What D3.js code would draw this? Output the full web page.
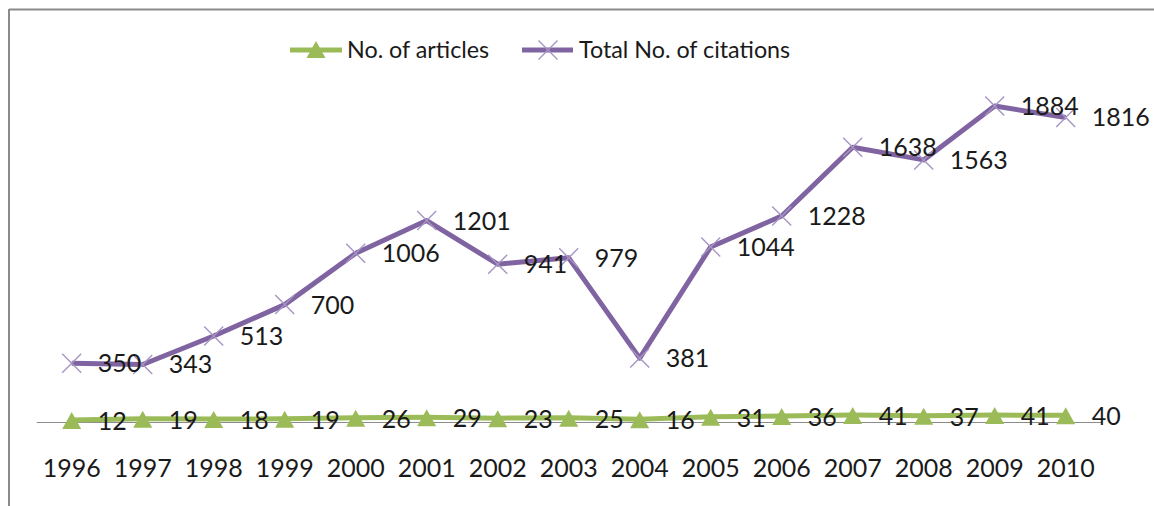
<!DOCTYPE html>
<html>
<head>
<meta charset="utf-8">
<script src="https://cdn.jsdelivr.net/npm/d3@7"></script>
<style>
  html, body { margin: 0; padding: 0; background: #fff; }
  svg { display: block; }
  text { font-family: Lato, "Open Sans", sans-serif; fill: #1a1a1a; }
</style>
</head>
<body>
<svg id="chart" width="1154" height="506"></svg>
<script>
// Publication years on the category axis
const years = ["1996","1997","1998","1999","2000","2001","2002","2003","2004","2005","2006","2007","2008","2009","2010"];
// Number of articles per year
const articles = [12, 19, 18, 19, 26, 29, 23, 25, 16, 31, 36, 41, 37, 41, 40];
// Total number of citations per year
const citations = [350, 343, 513, 700, 1006, 1201, 941, 979, 381, 1044, 1228, 1638, 1563, 1884, 1816];
// Value axis range (not drawn)
const yDomain = [0, 2000];

const seriesNames = ["No. of articles", "Total No. of citations"];
const green = "#9bbb59";
const purple = "#8064a2";
const markerPurple = "#a795c4";
const fontSize = "25px";
const legendFontSize = "23.3px";

const svg = d3.select("#chart");
const W = 1154, H = 506;

// Frame: top and left border lines
svg.append("line").attr("x1", 9).attr("x2", W).attr("y1", 9.5).attr("y2", 9.5)
  .attr("stroke", "#8a8a8a").attr("stroke-width", 2);
svg.append("line").attr("x1", 9).attr("x2", 9).attr("y1", 9).attr("y2", H)
  .attr("stroke", "#8a8a8a").attr("stroke-width", 2);

const x = d3.scaleBand().domain(years).range([36.2, 1101.2]);
const cx = d => x(d) + x.bandwidth() / 2;
const y = d3.scaleLinear().domain(yDomain).range([422, 86.6]);

// Category axis: baseline plus year labels
const xAxis = d3.axisBottom(x).tickSize(0).tickPadding(0);
const gx = svg.append("g").attr("transform", `translate(0,${y(0)})`).call(xAxis);
gx.select(".domain").attr("stroke", "#8c8c8c").attr("stroke-width", 1.2);
gx.selectAll(".tick text")
  .attr("y", 0).attr("dy", 0)
  .attr("transform", "translate(0,55)")
  .style("font-size", fontSize).style("font-family", "Lato, \"Open Sans\", sans-serif")
  .attr("fill", "#1a1a1a");

const line = d3.line().x((d, i) => cx(years[i])).y(d => y(d));

// Series lines
svg.append("path").datum(citations).attr("d", line)
  .attr("fill", "none").attr("stroke", purple).attr("stroke-width", 5).attr("stroke-linejoin", "round");
svg.append("path").datum(articles).attr("d", line)
  .attr("fill", "none").attr("stroke", green).attr("stroke-width", 5).attr("stroke-linejoin", "round");

// Markers
const xMark = (g, px, py) => {
  const s = 9.5;
  g.append("path")
    .attr("d", `M${px - s},${py - s}L${px + s},${py + s}M${px - s},${py + s}L${px + s},${py - s}`)
    .attr("stroke", markerPurple).attr("stroke-width", 1.4).attr("fill", "none");
};
const triMark = (g, px, py) => {
  g.append("path")
    .attr("d", `M${px},${py - 9}L${px + 9.5},${py + 8}L${px - 9.5},${py + 8}Z`)
    .attr("fill", green);
};
const gm = svg.append("g");
citations.forEach((v, i) => xMark(gm, cx(years[i]), y(v)));
articles.forEach((v, i) => triMark(gm, cx(years[i]), y(v) + 1));

// Data labels, placed to the right of each point
const labels = svg.append("g").style("font-size", fontSize);
labels.selectAll("text.cit").data(citations).join("text").attr("class", "cit")
  .attr("x", (d, i) => cx(years[i]) + 26).attr("y", d => y(d) + 9).text(d => d);
labels.selectAll("text.art").data(articles).join("text").attr("class", "art")
  .attr("x", (d, i) => cx(years[i]) + 26).attr("y", d => y(d) + 10).text(d => d);

// Legend
const lg = svg.append("g");
lg.append("line").attr("x1", 290).attr("x2", 342).attr("y1", 50).attr("y2", 50)
  .attr("stroke", green).attr("stroke-width", 5);
triMark(lg, 316, 50);
lg.append("text").attr("x", 347).attr("y", 58).style("font-size", legendFontSize).text(seriesNames[0]);
lg.append("line").attr("x1", 522).attr("x2", 573).attr("y1", 50).attr("y2", 50)
  .attr("stroke", purple).attr("stroke-width", 5);
xMark(lg, 548, 50);
lg.append("text").attr("x", 579).attr("y", 58).style("font-size", legendFontSize).text(seriesNames[1]);
</script>
</body>
</html>
